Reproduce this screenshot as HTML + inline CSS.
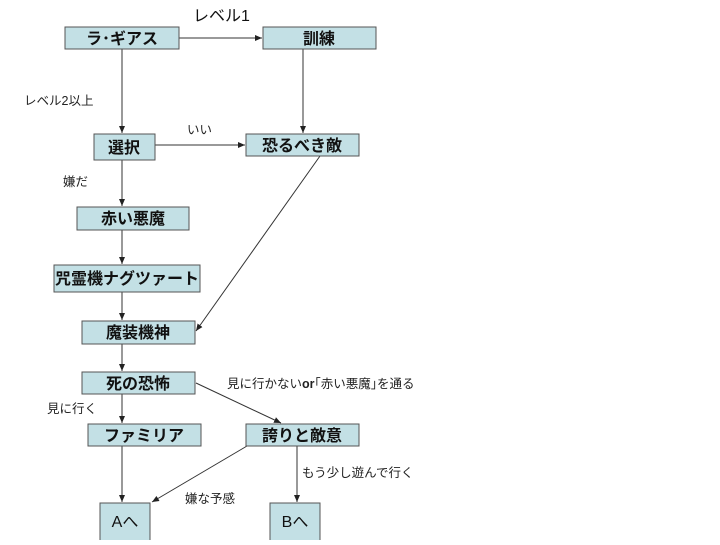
<!DOCTYPE html>
<html><head><meta charset="utf-8"><style>
body{margin:0;background:#fff;width:720px;height:540px;overflow:hidden;font-family:"Liberation Sans","Noto Sans CJK JP",sans-serif;}
svg text{font-family:"Liberation Sans","Noto Sans CJK JP",sans-serif;}
.n{fill:#c3e0e5;stroke:#555;stroke-width:1}
.t{font-size:16px;font-weight:bold;text-anchor:middle;fill:#111}
.l{font-size:12.5px;fill:#222}
line{stroke:#333;stroke-width:1}
</style></head><body>
<svg width="720" height="540" xmlns="http://www.w3.org/2000/svg">
<defs><marker id="a" markerWidth="8" markerHeight="8" refX="7" refY="4" orient="auto" markerUnits="userSpaceOnUse"><path d="M0,1 L7,4 L0,7z" fill="#222"/></marker></defs>
<line x1="179" y1="38" x2="262" y2="38" marker-end="url(#a)"/>
<line x1="122" y1="49" x2="122" y2="133" marker-end="url(#a)"/>
<line x1="303" y1="49" x2="303" y2="133" marker-end="url(#a)"/>
<line x1="155" y1="145" x2="245" y2="145" marker-end="url(#a)"/>
<line x1="122" y1="160" x2="122" y2="206" marker-end="url(#a)"/>
<line x1="122" y1="230" x2="122" y2="264" marker-end="url(#a)"/>
<line x1="122" y1="292" x2="122" y2="320" marker-end="url(#a)"/>
<line x1="320" y1="156" x2="196" y2="331" marker-end="url(#a)"/>
<line x1="122" y1="344" x2="122" y2="371" marker-end="url(#a)"/>
<line x1="196" y1="383" x2="281" y2="423" marker-end="url(#a)"/>
<line x1="122" y1="394" x2="122" y2="423" marker-end="url(#a)"/>
<line x1="122" y1="446" x2="122" y2="502" marker-end="url(#a)"/>
<line x1="247" y1="446" x2="152" y2="502" marker-end="url(#a)"/>
<line x1="297" y1="446" x2="297" y2="502" marker-end="url(#a)"/>
<rect class="n" x="65" y="27" width="114" height="22"/><text class="t" x="122" y="44">ラ･ギアス</text>
<rect class="n" x="263" y="27" width="113" height="22"/><text class="t" x="319" y="44">訓練</text>
<rect class="n" x="94" y="134" width="61" height="26"/><text class="t" x="124" y="153">選択</text>
<rect class="n" x="246" y="134" width="113" height="22"/><text class="t" x="302" y="151">恐るべき敵</text>
<rect class="n" x="77" y="207" width="112" height="23"/><text class="t" x="133" y="224">赤い悪魔</text>
<rect class="n" x="54" y="265" width="146" height="27"/><text class="t" x="127" y="284">咒霊機ナグツァート</text>
<rect class="n" x="82" y="321" width="113" height="23"/><text class="t" x="138" y="338">魔装機神</text>
<rect class="n" x="82" y="372" width="113" height="22"/><text class="t" x="138" y="389">死の恐怖</text>
<rect class="n" x="88" y="424" width="113" height="22"/><text class="t" x="144" y="441">ファミリア</text>
<rect class="n" x="246" y="424" width="113" height="22"/><text class="t" x="302" y="441">誇りと敵意</text>
<rect class="n" x="100" y="503" width="50" height="40"/><text class="t" x="125" y="527" style="font-weight:normal">Aへ</text>
<rect class="n" x="270" y="503" width="50" height="40"/><text class="t" x="295" y="527" style="font-weight:normal">Bへ</text>
<text x="193" y="21" style="font-size:16px;fill:#111">レベル1</text>
<text class="l" x="24" y="105">レベル2以上</text>
<text class="l" x="187" y="134">いい</text>
<text class="l" x="63" y="186">嫌だ</text>
<text class="l" x="227" y="388">見に行かない<tspan font-weight="bold">or</tspan>｢赤い悪魔｣を通る</text>
<text class="l" x="47" y="413">見に行く</text>
<text class="l" x="302" y="477">もう少し遊んで行く</text>
<text class="l" x="185" y="503">嫌な予感</text>
</svg>
</body></html>
